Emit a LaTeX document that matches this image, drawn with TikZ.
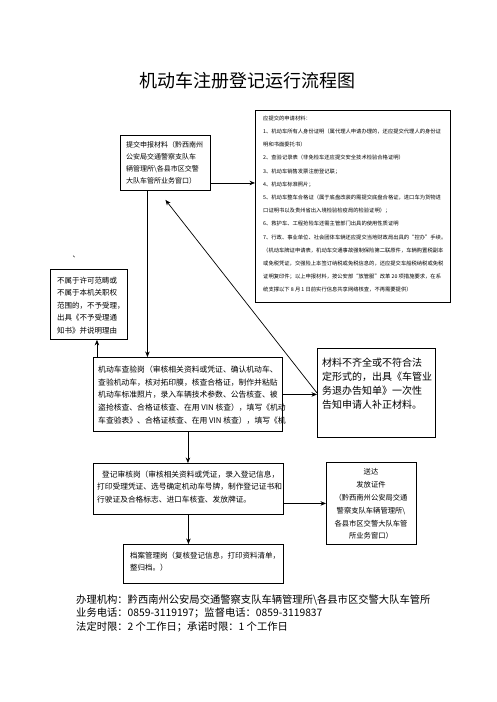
\documentclass[tikz,border=0pt]{standalone}
\usepackage{fontspec}
\setmainfont{Noto Sans CJK SC}
\usetikzlibrary{arrows.meta}

\newcommand{\titlefont}{\fontsize{18}{20}\selectfont}
\newcommand{\listfont}{\fontsize{5.3}{13.2}\selectfont}
\newcommand{\notefont}{\fontsize{10.3}{13.5}\selectfont}

\begin{document}
\begin{tikzpicture}[x=1pt,y=1pt]
	\tikzstyle{every node}+=[inner sep=0pt]
	\tikzstyle{box}=[draw, line width=0.9pt, anchor=north west]
	\tikzstyle{txt}=[anchor=north west, align=left]
	\tikzstyle{arr}=[line width=0.7pt, -{Stealth[length=5.5pt,width=4.5pt]}]
	\fill [white] (0,0) rectangle (496,-702);
	\useasboundingbox (0,0) rectangle (496,-702);
	\node (title) at (247.5,-81) {\titlefont 机动车注册登记运行流程图};
	% boxes
	\node [box, minimum width=90, minimum height=55] (apply) at (120,-135) {};
	\node [box, minimum width=195, minimum height=192] (list) at (255,-110) {};
	\node [box, minimum width=77, minimum height=70] (refuse) at (50,-269) {};
	\node [box, minimum width=189, minimum height=74] (check) at (93,-357) {};
	\node [box, minimum width=118, minimum height=89] (notice) at (317,-348) {};
	\node [box, minimum width=190, minimum height=51] (register) at (93,-463) {};
	\node [box, minimum width=90, minimum height=82] (deliver) at (326,-462) {};
	\node [box, minimum width=160, minimum height=39] (archive) at (123,-544) {};
	% texts
	\node [txt, font={\fontsize{7}{12}\selectfont}] (applytext) at (126,-141.8) {提交申报材料（黔西南州\\公安局交通警察支队车\\辆管理所\textbackslash 各县市区交警\\大队车管所业务窗口）};
	\node [txt, font=\listfont] (listtext) at (263,-115.6) {应提交的申请材料：\\
1、机动车所有人身份证明（属代理人申请办理的，还应提交代理人的身份证\\
明和书面委托书）\\
2、查验记录表（非免检车还应提交安全技术检验合格证明）\\
3、机动车销售发票注册登记联；\\
4、机动车标准照片；\\
5、机动车整车合格证（属于底盘改装的需提交底盘合格证，进口车为货物进\\
口证明书以及贵州省出入境检验检疫局的检验证明）；\\
6、救护车、工程抢险车还需主管部门出具的使用性质证明\\
7、行政、事业单位、社会团体车辆还应提交当地财政局出具的“控办”手续。\\
（机动车牌证申请表，机动车交通事故强制保险第二联原件，车辆购置税副本\\
或免税凭证，交强险上本签订纳税或免税信息的，还应提交车船税纳税或免税\\
证明复印件；以上申报材料，按公安部“放管服”改革 20 项措施要求，在系\\
统支撑以下 8 月 1 日前实行信息共享网络核查，不再需要提供）};
	\node [font={\fontsize{7}{8}\selectfont}] (mark) at (76,-257) {、};
	\node [txt, font={\fontsize{7.5}{12.5}\selectfont}] (refusetext) at (57,-276.5) {不属于许可范畴或\\不属于本机关职权\\范围的，不予受理，\\出具《不予受理通\\知书》并说明理由};
	\node [txt, font={\fontsize{7.8}{12.8}\selectfont}] (checktext) at (98,-365.4) {机动车查验岗（审核相关资料或凭证、确认机动车、\\查验机动车，核对拓印膜，核查合格证，制作并粘贴\\机动车标准照片，录入车辆技术参数、公告核查、被\\盗抢核查、合格证核查、在用 VIN 核查），填写《机动\\车查验表》、合格证核查、在用 VIN 核查），填写《机};
	\node [txt, font={\fontsize{10}{14}\selectfont}] (noticetext) at (322,-357.4) {材料不齐全或不符合法\\定形式的，出具《车管业\\务退办告知单》一次性\\告知申请人补正材料。};
	\node [txt, font={\fontsize{7.7}{12.5}\selectfont}] (registertext) at (97,-470.5) {\hspace{5pt}登记审核岗（审核相关资料或凭证，录入登记信息，\\打印受理凭证、选号确定机动车号牌，制作登记证书和\\行驶证及合格标志、进口车核查、发放牌证。};
	\node [anchor=north, align=center, font={\fontsize{7.3}{12.8}\selectfont}] (delivertext) at (371,-468.6) {送达\\发放证件\\（黔西南州公安局交通\\警察支队车辆管理所\textbackslash\\各县市区交警大队车管\\所业务窗口）};
	\node [txt, font={\fontsize{7.5}{12.5}\selectfont}] (archivetext) at (130,-551.5) {档案管理岗（复核登记信息，打印资料清单，\\整归档。）};
	\node [txt, font=\notefont] (contact) at (76,-594.3) {办理机构：黔西南州公安局交通警察支队车辆管理所\textbackslash 各县市区交警大队车管所\\业务电话：0859-3119197；监督电话：0859-3119837\\法定时限：2 个工作日；承诺时限：1 个工作日};
	% connectors
	\draw [arr] ([yshift=-20pt]apply.east) -- ([yshift=-20pt]apply.east -| list.west);
	\draw [arr] ([xshift=-18pt]apply.south) -- ([xshift=-18pt]apply.south |- check.north);
	\draw [arr] (notice.west) -- ([yshift=-9pt]apply.south);
	\draw [arr] (check.east) -- (check.east -| notice.west);
	\draw [arr] ([xshift=8pt]refuse.south |- check.north) -- ([xshift=8pt]refuse.south);
	\draw [arr] (check.south) -- (check.south |- register.north);
	\draw [arr] (register.east |- deliver.west) -- (deliver.west);
	\draw [arr] (register.south) -- (register.south |- archive.north);
\end{tikzpicture}
\end{document}
